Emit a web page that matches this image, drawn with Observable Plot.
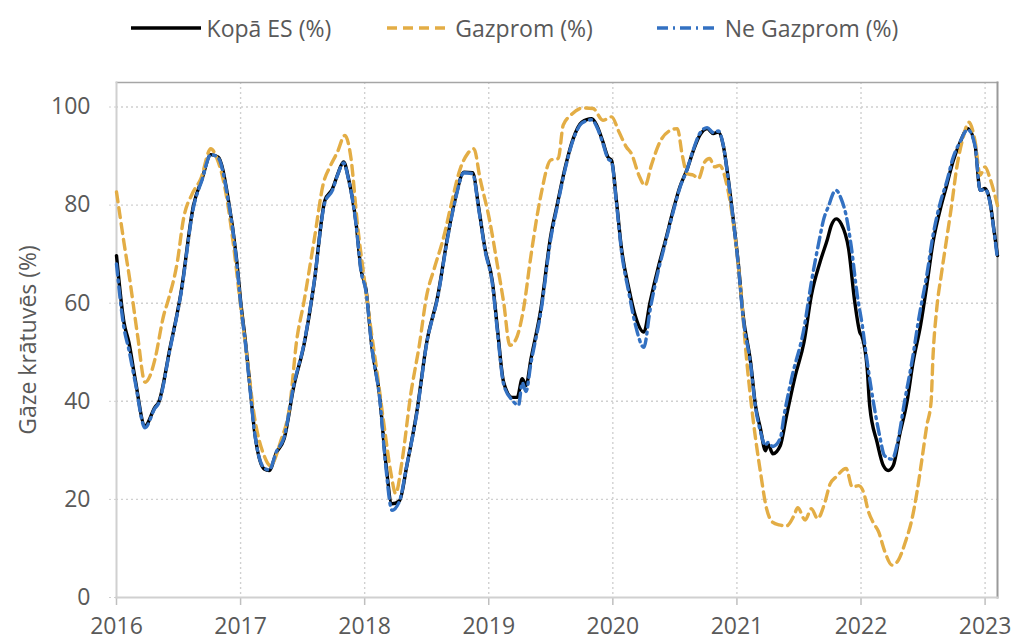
<!DOCTYPE html>
<html><head><meta charset="utf-8">
<script src="https://cdn.jsdelivr.net/npm/d3@7"></script>
<script src="https://cdn.jsdelivr.net/npm/@observablehq/plot@0.6"></script>
<style>
body{margin:0;background:#fff;font-family:"Open Sans",sans-serif;}
#legend{height:55px;display:flex;justify-content:center;align-items:center;color:#595959;font-size:23px;padding-left:14px;box-sizing:border-box;width:1015px}
.item{display:flex;align-items:center;margin:0 28px}
.item.last{margin-left:36px}
.item svg{margin-right:6px}
#chart svg{display:block}
</style></head><body>
<div id="legend"></div><div id="chart"></div>
<script>
const seriesNames = ["Kopā ES (%)", "Gazprom (%)", "Ne Gazprom (%)"];
const yearTicks = [2016, 2017, 2018, 2019, 2020, 2021, 2022, 2023];
const valueTicks = [0, 20, 40, 60, 80, 100];

const kopa = [
[2016.00,69.7],[2016.06,56.1],[2016.10,52.0],[2016.15,44.6],[2016.23,35.0],[2016.31,38.8],[2016.34,39.8],[2016.43,50.7],[2016.52,62.2],[2016.62,79.9],[2016.69,85.4],[2016.76,90.3],[2016.82,89.8],[2016.90,81.3],[2016.97,68.4],
[2017.00,60.5],[2017.04,52.0],[2017.08,42.0],[2017.11,34.4],[2017.19,26.2],[2017.23,25.9],[2017.29,29.6],[2017.35,32.3],[2017.43,43.2],[2017.51,51.4],[2017.59,63.6],[2017.68,81.0],[2017.74,83.3],[2017.78,86.1],[2017.83,88.8],[2017.87,85.4],[2017.93,76.5],[2017.97,67.0],
[2018.01,62.9],[2018.06,50.7],[2018.12,41.2],[2018.17,27.6],[2018.22,19.1],[2018.28,19.7],[2018.34,26.9],[2018.42,37.8],[2018.50,52.0],[2018.59,61.6],[2018.67,73.8],[2018.73,81.3],[2018.80,86.7],[2018.87,86.6],[2018.92,79.3],[2018.97,71.1],
[2019.03,64.3],[2019.07,54.8],[2019.12,43.9],[2019.19,40.8],[2019.23,40.8],[2019.27,44.6],[2019.30,43.2],[2019.34,48.6],[2019.42,58.8],[2019.50,73.8],[2019.55,79.9],[2019.62,88.1],[2019.68,93.5],[2019.75,96.9],[2019.83,97.6],[2019.87,96.3],[2019.92,92.9],[2019.96,89.8],[2019.99,89.1],
[2020.03,80.6],[2020.07,71.1],[2020.13,62.9],[2020.18,57.5],[2020.25,54.1],[2020.30,60.2],[2020.37,67.7],[2020.42,72.4],[2020.49,79.3],[2020.54,83.7],[2020.60,87.4],[2020.65,91.2],[2020.70,94.2],[2020.76,95.6],[2020.81,94.6],[2020.85,94.9],[2020.89,92.2],[2020.93,85.4],[2020.97,77.2],
[2021.01,68.4],[2021.05,57.5],[2021.11,48.0],[2021.15,39.1],[2021.19,34.4],[2021.23,29.9],[2021.25,31.3],[2021.29,29.3],[2021.35,31.0],[2021.40,37.1],[2021.47,45.2],[2021.54,52.0],[2021.60,61.6],[2021.67,68.4],[2021.73,73.1],[2021.76,75.8],[2021.80,77.2],[2021.84,76.2],[2021.90,71.1],[2021.95,60.2],[2021.99,54.1],
[2022.01,53.1],[2022.05,46.6],[2022.07,39.1],[2022.13,31.6],[2022.18,26.9],[2022.22,25.9],[2022.26,26.9],[2022.31,33.0],[2022.37,39.8],[2022.42,48.0],[2022.48,55.5],[2022.53,63.6],[2022.58,72.4],[2022.64,79.3],[2022.69,84.0],[2022.74,88.8],[2022.80,92.9],[2022.86,95.6],[2022.92,92.2],[2022.96,83.0],
[2023.00,83.4],[2023.04,80.6],[2023.07,75.2],[2023.10,69.7]
];

const gazprom = [
[2016.00,82.7],[2016.06,72.4],[2016.11,64.3],[2016.17,53.4],[2016.23,43.9],[2016.27,45.2],[2016.31,48.6],[2016.38,57.5],[2016.42,60.9],[2016.49,68.4],[2016.54,77.2],[2016.61,82.3],[2016.68,85.4],[2016.76,91.5],[2016.81,89.5],[2016.88,82.7],[2016.94,72.4],
[2017.00,59.5],[2017.05,49.3],[2017.11,37.1],[2017.19,28.9],[2017.24,26.9],[2017.32,31.6],[2017.40,39.8],[2017.45,52.0],[2017.51,60.2],[2017.59,72.4],[2017.67,84.7],[2017.72,87.8],[2017.78,90.8],[2017.84,94.2],[2017.89,89.5],[2017.94,76.5],
[2018.00,64.3],[2018.05,54.8],[2018.10,45.9],[2018.16,34.4],[2018.21,25.6],[2018.25,21.2],[2018.30,27.6],[2018.37,41.2],[2018.44,51.4],[2018.50,61.6],[2018.56,67.0],[2018.64,73.8],[2018.69,79.3],[2018.77,87.4],[2018.83,90.5],[2018.88,91.5],[2018.93,85.4],
[2019.01,76.5],[2019.07,67.7],[2019.12,60.2],[2019.17,51.4],[2019.22,52.7],[2019.28,58.8],[2019.34,69.7],[2019.42,82.0],[2019.50,89.2],[2019.56,89.5],[2019.60,96.3],[2019.66,98.3],[2019.76,99.8],[2019.84,99.7],[2019.92,97.3],[2019.99,98.0],
[2020.05,94.9],[2020.11,91.8],[2020.15,90.5],[2020.21,86.1],[2020.26,84.0],[2020.31,88.1],[2020.38,92.9],[2020.46,95.2],[2020.52,95.6],[2020.56,90.1],[2020.60,86.4],[2020.65,86.1],[2020.69,85.4],[2020.74,88.8],[2020.78,89.5],[2020.82,87.8],[2020.86,88.1],[2020.92,84.0],[2020.97,76.5],
[2021.03,62.9],[2021.08,48.0],[2021.13,36.4],[2021.19,25.5],[2021.24,18.0],[2021.29,15.3],[2021.34,14.8],[2021.40,14.6],[2021.46,16.7],[2021.49,18.3],[2021.55,15.8],[2021.60,18.1],[2021.65,16.1],[2021.71,19.5],[2021.75,23.1],[2021.80,24.6],[2021.88,26.3],[2021.93,22.5],[2021.98,22.8],
[2022.02,21.5],[2022.06,17.5],[2022.10,15.2],[2022.14,13.5],[2022.19,9.5],[2022.25,6.6],[2022.29,7.2],[2022.36,11.5],[2022.41,15.9],[2022.45,21.3],[2022.49,28.0],[2022.53,35.0],[2022.565,40.0],[2022.58,49.0],[2022.61,58.8],[2022.65,66.3],[2022.69,73.1],[2022.73,79.9],[2022.77,87.4],[2022.82,93.5],[2022.87,96.9],[2022.92,92.9],[2022.96,86.1],
[2023.00,87.8],[2023.04,85.4],[2023.10,79.9]
];

const neGazprom = [
[2016.00,68.0],[2016.06,55.0],[2016.10,50.5],[2016.15,44.0],[2016.23,34.6],[2016.31,38.6],[2016.34,39.6],[2016.43,50.5],[2016.52,62.0],[2016.62,79.5],[2016.69,85.2],[2016.76,90.3],[2016.82,89.6],[2016.90,81.0],[2016.97,68.0],
[2017.00,60.0],[2017.04,51.5],[2017.08,41.5],[2017.11,34.2],[2017.19,26.4],[2017.23,26.0],[2017.29,29.8],[2017.35,32.6],[2017.43,43.5],[2017.51,51.6],[2017.59,63.8],[2017.68,80.6],[2017.74,83.0],[2017.78,86.0],[2017.83,88.6],[2017.87,85.2],[2017.93,76.2],[2017.97,66.6],
[2018.01,62.5],[2018.06,50.5],[2018.12,40.8],[2018.17,26.8],[2018.22,17.8],[2018.28,19.6],[2018.34,27.0],[2018.42,37.5],[2018.50,51.8],[2018.59,61.4],[2018.67,73.5],[2018.73,81.0],[2018.80,86.6],[2018.87,86.4],[2018.92,79.0],[2018.97,70.8],
[2019.03,63.8],[2019.07,54.2],[2019.12,43.5],[2019.19,40.2],[2019.24,39.2],[2019.27,43.8],[2019.30,42.0],[2019.34,47.8],[2019.42,58.2],[2019.50,73.2],[2019.55,79.5],[2019.62,87.8],[2019.68,93.3],[2019.75,96.7],[2019.83,97.4],[2019.87,96.0],[2019.92,92.6],[2019.96,89.5],[2019.99,88.8],
[2020.03,80.2],[2020.07,70.6],[2020.13,62.0],[2020.18,55.8],[2020.25,51.0],[2020.30,58.6],[2020.37,67.0],[2020.42,72.0],[2020.49,79.0],[2020.54,83.5],[2020.60,87.4],[2020.65,91.4],[2020.70,94.6],[2020.76,95.8],[2020.81,94.8],[2020.85,95.1],[2020.89,92.2],[2020.93,85.2],[2020.97,77.0],
[2021.01,68.0],[2021.05,57.0],[2021.11,47.6],[2021.15,38.8],[2021.19,33.8],[2021.23,31.0],[2021.25,31.6],[2021.29,30.8],[2021.35,32.5],[2021.38,37.1],[2021.44,44.6],[2021.54,54.8],[2021.60,64.3],[2021.66,72.4],[2021.70,77.2],[2021.74,79.9],[2021.78,82.6],[2021.80,83.0],[2021.84,81.3],[2021.88,77.9],[2021.92,71.8],[2021.97,61.6],
[2022.01,55.5],[2022.05,48.0],[2022.10,39.8],[2022.15,33.0],[2022.19,28.9],[2022.25,28.2],[2022.30,32.3],[2022.35,39.8],[2022.41,48.0],[2022.47,57.5],[2022.53,65.7],[2022.58,73.8],[2022.64,80.6],[2022.69,84.7],[2022.74,89.5],[2022.80,93.0],[2022.86,95.4],[2022.92,92.0],[2022.96,83.0],
[2023.00,83.2],[2023.04,80.4],[2023.07,75.0],[2023.10,69.0]
];

const colors = ["#000000", "#E3AD45", "#3371C2"];
const dashes = [null, "10,6", "11,5,2,5"];

// legend
const legend = document.getElementById("legend");
const swW = [70, 62, 62];
seriesNames.forEach((name, i) => {
  const it = document.createElement("div");
  it.className = "item" + (i === 2 ? " last" : "");
  const dash = dashes[i] ? `stroke-dasharray="${dashes[i]}"` : "";
  it.innerHTML = `<svg width="${swW[i]}" height="10"><line x1="0" x2="${swW[i]}" y1="5" y2="5" stroke="${colors[i]}" stroke-width="3.4" ${dash}/></svg><span>${name}</span>`;
  legend.appendChild(it);
});

const toRows = arr => arr.map(([t, v]) => ({t, v}));
const series = [toRows(kopa), toRows(gazprom), toRows(neGazprom)];

const chart = Plot.plot({
  width: 1015,
  height: 588,
  marginTop: 27,
  marginBottom: 46,
  marginLeft: 116,
  marginRight: 18,
  style: {fontFamily: "'Open Sans', sans-serif", fontSize: "23px", color: "#595959", background: "#fff"},
  x: {domain: [2016, 2023.1]},
  y: {domain: [0, 105]},
  marks: [
    Plot.gridY(valueTicks.slice(1), {stroke: "#d0d0d0", strokeOpacity: 1, strokeWidth: 1.4, strokeDasharray: "2,3"}),
    Plot.gridX(yearTicks.slice(1), {stroke: "#d0d0d0", strokeOpacity: 1, strokeWidth: 1.4, strokeDasharray: "2,3"}),
    Plot.axisY(valueTicks, {tickSize: 10, tickPadding: 16, stroke: "#d0d0d0", strokeDasharray: "2,3", fill: "#595959", fontSize: 23, label: "Gāze krātuvēs (%)", labelAnchor: "center", labelArrow: "none", labelOffset: 97}),
    Plot.axisX(yearTicks, {tickSize: 8, tickPadding: 12, stroke: "#bfbfbf", strokeWidth: 1.5, fill: "#595959", fontSize: 23, tickFormat: d => String(d), label: null}),
    Plot.frame({anchor: "top", stroke: "#a6a6a6", strokeWidth: 1.5}),
    Plot.frame({anchor: "right", stroke: "#9a9a9a", strokeWidth: 2}),
    Plot.frame({anchor: "left", stroke: "#d0d0d0", strokeWidth: 2}),
    Plot.frame({anchor: "bottom", stroke: "#d0d0d0", strokeWidth: 2}),
    ...series.map((rows, i) => Plot.line(rows, {x: "t", y: "v", stroke: colors[i], strokeWidth: 3.4, strokeDasharray: dashes[i] || undefined, curve: "monotone-x"}))
  ]
});
document.getElementById("chart").appendChild(chart);
</script>
</body></html>
